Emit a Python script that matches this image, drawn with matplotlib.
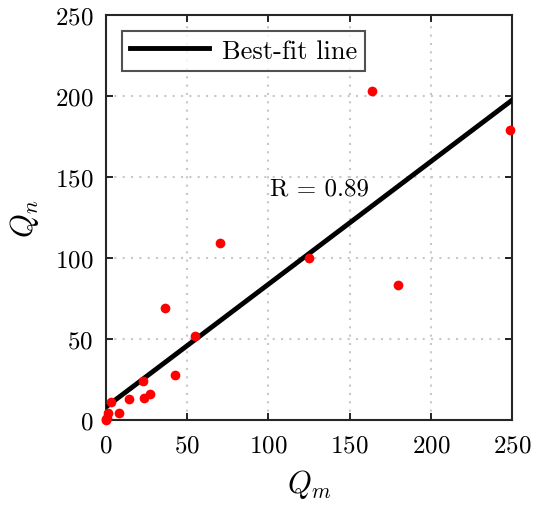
import numpy as np
import matplotlib.pyplot as plt

plt.rcParams['font.family'] = 'cmr10'
plt.rcParams['mathtext.fontset'] = 'cm'
plt.rcParams['axes.formatter.use_mathtext'] = True

# measured vs. predicted values
q_m = [163.8, 248.8, 70.2, 125.0, 179.8, 36.3, 54.8, 42.5, 27.1, 22.8,
       23.4, 14.2, 8.0, 3.0, 1.2, 0.6, 0.0, 0.3]
q_n = [203.0, 179.0, 109.3, 100.0, 83.3, 69.1, 51.9, 27.8, 16.0, 24.0,
       13.6, 13.0, 4.3, 11.0, 4.3, 1.2, 0.0, 0.5]
fit_slope = 0.758
fit_intercept = 8.0
r_value = 0.89

fig = plt.figure(figsize=(5.35, 5.06), dpi=100)
ax = fig.add_axes([0.198, 0.168, 0.759, 0.8])

xx = np.array([0, 250])
ax.plot(xx, fit_slope * xx + fit_intercept, color='black', lw=3.5, label='Best-fit line', zorder=3)
ax.plot(q_m, q_n, 'o', color='red', ms=7, mec='none', zorder=4, clip_on=False)

ax.text(101, 143, f'R = {r_value:.2f}', fontsize=18, va='center', ha='left')

ax.set_xlim(0, 250)
ax.set_ylim(0, 250)
ax.set_xticks(range(0, 251, 50))
ax.set_yticks(range(0, 251, 50))
ax.grid(True, ls=(0, (1, 3)), color='#c8c8c8', lw=1.5)
ax.tick_params(direction='in', top=True, right=True, labelsize=18, width=1.2, length=5)
ax.tick_params(axis='x', pad=10)
ax.tick_params(axis='y', pad=9)
for s in ax.spines.values():
    s.set_linewidth(1.5)
    s.set_color('#262626')

ax.set_xlabel('$Q_m$', fontsize=22, labelpad=8)
ax.set_ylabel('$Q_n$', fontsize=22, labelpad=10)

leg = ax.legend(loc='upper left', fontsize=19, frameon=True, fancybox=False,
                edgecolor='#262626', handlelength=3.0, borderaxespad=0.6,
                borderpad=0.3, handletextpad=0.5)
leg.get_frame().set_linewidth(1.5)

fig.savefig('out.png', dpi=100)
